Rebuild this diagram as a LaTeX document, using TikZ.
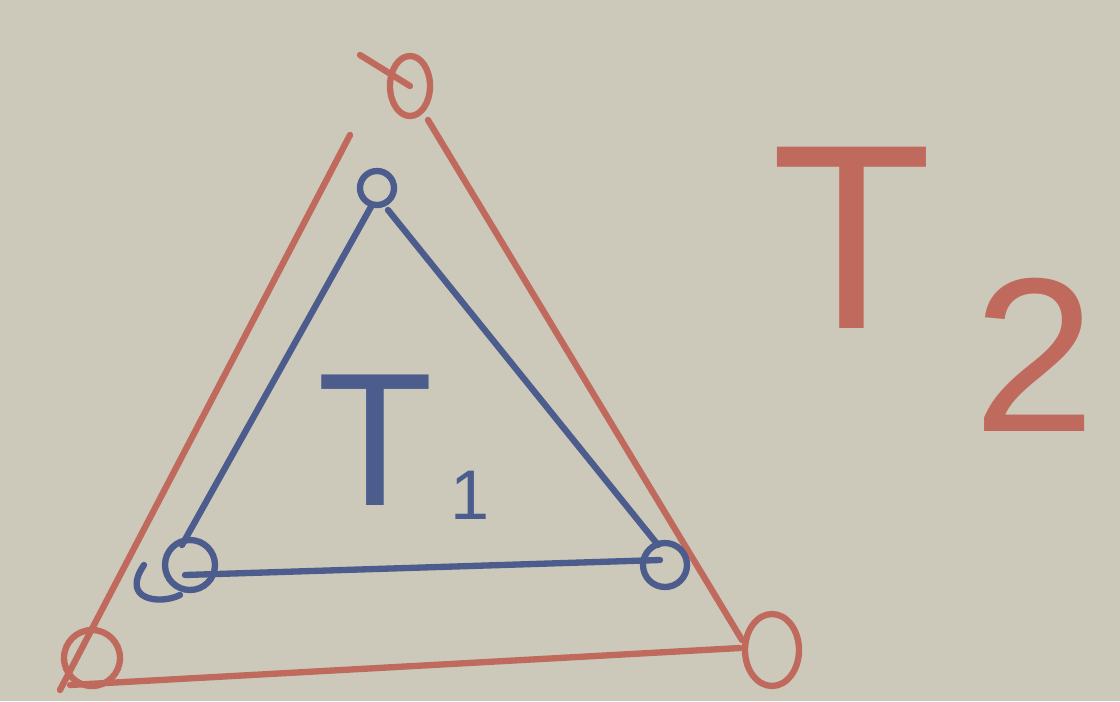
\documentclass[tikz,border=0pt]{standalone}
\usepackage{fontspec}
\setmainfont{Liberation Sans}
\definecolor{paper}{HTML}{CCC8BA}
\definecolor{pred}{HTML}{C06A5E}
\definecolor{pblue}{HTML}{4C5C8C}
\begin{document}
\begin{tikzpicture}[x=0.02cm,y=-0.02cm,
  redline/.style={draw=pred,line width=3.6pt,line cap=round},
  blueline/.style={draw=pblue,line width=3.6pt,line cap=round},
  lbl/.style={inner sep=0pt,font=\fontsize{#1}{#1}\selectfont}]
\fill[paper] (0,0) rectangle (1120,701);
\useasboundingbox (0,0) rectangle (1120,701);
% red triangle T2
\coordinate (rt) at (410,86);
\coordinate (rl) at (92,658);
\coordinate (rr) at (772,650);
\draw[redline] (rt) ellipse [x radius=20, y radius=30];
\draw[redline] (rl) ellipse [x radius=28, y radius=28];
\draw[redline] (rr) ellipse [x radius=27, y radius=36];
\coordinate (rt1) at (350,135);
\coordinate (rt2) at (428,120);
\coordinate (rl1) at (60,690);
\coordinate (rl2) at (70,685);
\coordinate (rr1) at (742,640);
\coordinate (rr2) at (740,648);
\draw[redline] (rt1) -- (rl1);
\draw[redline] (rt2) -- (rr1);
\draw[redline] (rl2) -- (rr2);
\draw[redline] (360,55) -- (rt);
% blue triangle T1
\coordinate (bt) at (377,188);
\coordinate (bl) at (190,565);
\coordinate (br) at (665,565);
\draw[blueline] (bt) circle [radius=17];
\draw[blueline] (bl) circle [radius=25];
\draw[blueline] (br) circle [radius=22];
\draw[blueline] (144,565) .. controls (120,600) and (160,605) .. (180,595);
\coordinate (bt1) at (372,205);
\coordinate (bt2) at (388,210);
\coordinate (bl1) at (182,545);
\coordinate (bl2) at (185,575);
\coordinate (br1) at (658,545);
\coordinate (br2) at (660,560);
\draw[blueline] (bt1) -- (bl1);
\draw[blueline] (bt2) -- (br1);
\draw[blueline] (bl2) -- (br2);
% labels
\node[lbl=108, text=pblue] (t1) at (375,440) {T};
\node[lbl=40, text=pblue] (s1) at (470,495) {1};
\node[lbl=150, text=pred] (t2) at (852,238) {T};
\node[lbl=125, text=pred] (s2) at (1035,355) {2};
\end{tikzpicture}
\end{document}
